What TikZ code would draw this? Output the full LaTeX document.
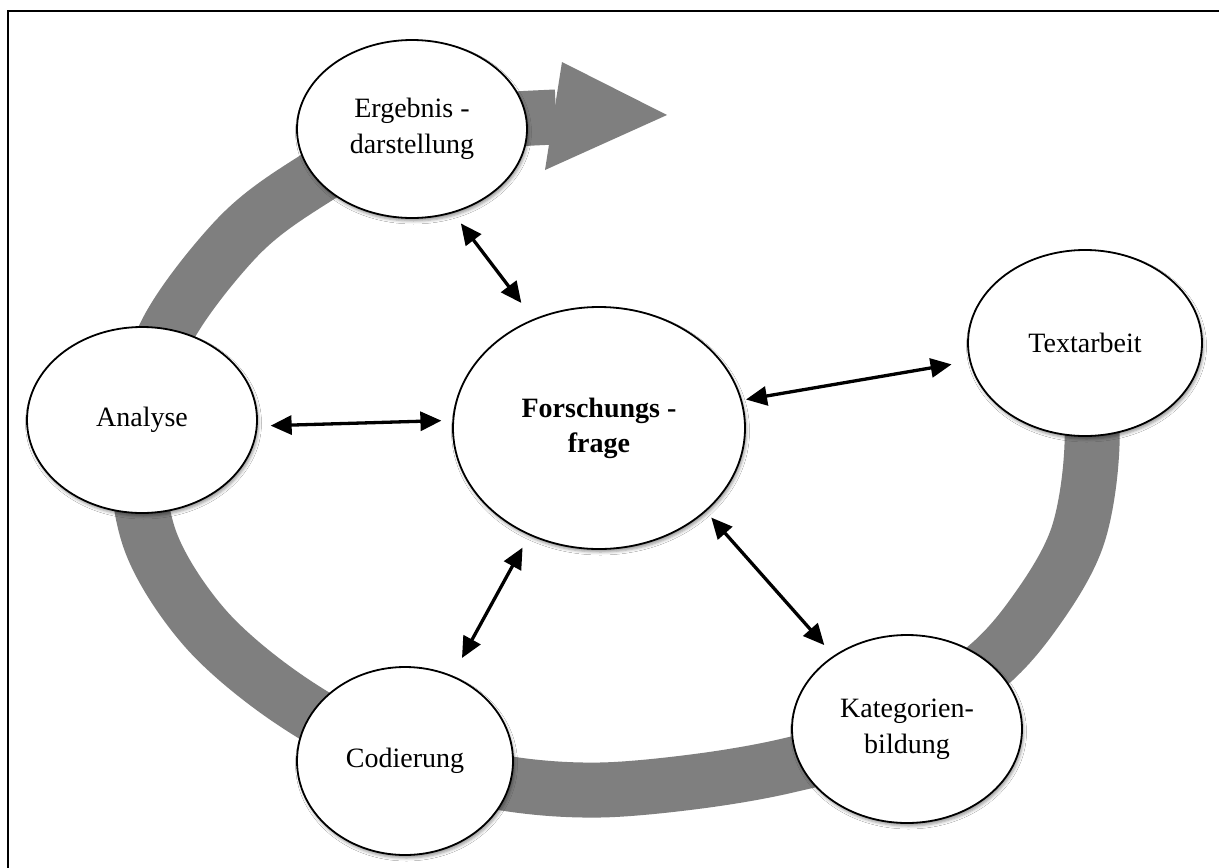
\documentclass[tikz,border=0pt]{standalone}
\usepackage{fontspec}
\setmainfont{Liberation Serif}
\usetikzlibrary{shapes.geometric,arrows.meta,backgrounds,shadows.blur}

\definecolor{bandgray}{RGB}{127,127,127}

\tikzset{
  stage/.style={ellipse, draw=black, line width=1.8pt, fill=white, inner sep=0pt,
    align=center, font=\fontsize{28}{36}\selectfont,
    blur shadow={shadow xshift=1.5pt, shadow yshift=-3pt, shadow blur radius=3pt, shadow opacity=40}},
  tip/.tip={Triangle[length=21pt,width=19pt]},
  link/.style={tip-tip, line width=3.3pt, black},
  band/.style={draw=bandgray, line width=55pt, line cap=butt, line join=round}
}

\begin{document}
\begin{tikzpicture}[x=1pt,y=-1pt]
\useasboundingbox (0,0) rectangle (1219,868);

% stages of the cycle
\node[stage, minimum width=230pt, minimum height=178pt] (erg) at (412,129) {Ergebnis -\\darstellung};
\node[stage, minimum width=230pt, minimum height=186pt] (an)  at (142,420) {Analyse};
\node[stage, minimum width=292pt, minimum height=242pt, font=\fontsize{28}{35}\selectfont\bfseries] (fq) at (599,428) {Forschungs -\\frage};
\node[stage, minimum width=234pt, minimum height=186pt] (tx)  at (1085,343) {Textarbeit};
\node[stage, minimum width=230pt, minimum height=188pt] (kat) at (907,729) {Kategorien-\\bildung};
\node[stage, minimum width=216pt, minimum height=188pt] (cod) at (405,761) {Codierung};

% links between the research question and each stage
\draw[link, shorten <=13pt, shorten >=20pt] (erg.-64.4) -- (fq.121.6);
\draw[link, shorten <=13pt, shorten >=11pt] (an.-3.5) -- (fq.177.3);
\draw[link, shorten <=4pt, shorten >=18pt] (fq.11.6) -- (tx.189.5);
\draw[link, shorten <=14pt, shorten >=20pt] (fq.237.1) -- (cod.61.9);
\draw[link, shorten <=8pt, shorten >=14pt] (fq.-38.2) -- (kat.135.7);

\begin{pgfonlayer}{background}
  \fill[white] (0,0) rectangle (1219,868);
  % frame
  \draw[line width=2pt] (8,868) -- (8,11) -- (1219,11);
  % the grey process band running round the stages
  \draw[band] plot[smooth, tension=0.55] coordinates {
    (tx.center) (1092,445) (1078,535) (1040,605) (985,668) (880,738)
    (790,765) (700,781) (600,790) (510,784) (400,760) (290,700)
    (205,628) (150,540) (138,440) (165,335) (235,240) (305,185)
    (410,128) (500,120) (556,117)};
  \fill[bandgray] (562,62) -- (667,115) -- (545,170) -- cycle;
\end{pgfonlayer}
\end{tikzpicture}
\end{document}
